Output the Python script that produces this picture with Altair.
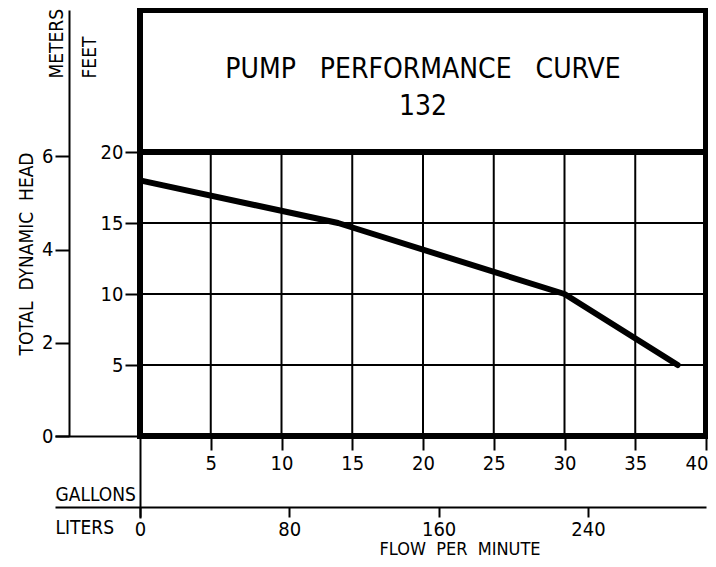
import altair as alt
import pandas as pd

FONT = "DejaVu Sans Condensed, Liberation Sans Narrow, sans-serif"
NB = "\u00a0"

# ---- data ----
flow_gpm = [0, 14, 30, 38]          # gallons per minute
head_ft = [18, 15, 10, 5]           # total dynamic head, feet

gallon_ticks = [0, 5, 10, 15, 20, 25, 30, 35, 40]
feet_ticks = [0, 5, 10, 15, 20]
meter_ticks = [0, 2, 4, 6]
liter_ticks = [0, 80, 160, 240]
grid_gallons = [5, 10, 15, 20, 25, 30, 35]
grid_feet = [5, 10, 15]
header_floor_ft = [20]

gallon_domain = [0, 40]
feet_domain = [0, 30]
meter_domain = [0, 30 * 0.3048]
liter_domain = [-45.5, 303.2]

title_line1 = ["PUMP" + NB * 3 + "PERFORMANCE" + NB * 3 + "CURVE"]
title_line2 = ["132"]

W, H = 566, 426

xg = alt.Scale(domain=gallon_domain, nice=False, zero=False)
yf = alt.Scale(domain=feet_domain, nice=False, zero=False)

gal_axis = alt.Axis(
    orient="bottom", values=gallon_ticks, domain=False, grid=False,
    tickSize={"condition": {"test": "datum.value === 0", "value": 82}, "value": 14},
    tickWidth=2, labelPadding=3, labelFlush=True, labelFlushOffset=2,
    labelExpr="datum.value === 0 ? '' : datum.label",
    title="GALLONS", titleX=-85, titleY=64, titleAlign="left",
    titleBaseline="alphabetic", titleAngle=0,
)
feet_axis = alt.Axis(
    orient="left", values=feet_ticks, domain=False, grid=False,
    tickSize={"condition": {"test": "datum.value === 0", "value": 85}, "value": 15},
    tickWidth=2, labelPadding=2,
    labelExpr="datum.value === 0 ? '' : datum.label",
    title="FEET", titleX=-45, titleY=68, titleAngle=270, titleAlign="left",
    titleBaseline="alphabetic",
)

one = pd.DataFrame({"k": [0]})

vgrid = alt.Chart(pd.DataFrame({"g": grid_gallons})).mark_rule(
    color="black", strokeWidth=2
).encode(
    x=alt.X("g:Q", scale=xg, axis=gal_axis),
    y=alt.YDatum(0, scale=yf, axis=feet_axis),
    y2=alt.Y2Datum(header_floor_ft[0]),
)
hgrid = alt.Chart(pd.DataFrame({"f": grid_feet})).mark_rule(
    color="black", strokeWidth=2
).encode(
    y=alt.Y("f:Q", scale=yf, axis=feet_axis),
    x=alt.XDatum(gallon_domain[0], scale=xg, axis=gal_axis),
    x2=alt.X2Datum(gallon_domain[1]),
)
divider = alt.Chart(pd.DataFrame({"f": header_floor_ft})).mark_rule(
    color="black", strokeWidth=6
).encode(
    y=alt.Y("f:Q", scale=yf, axis=feet_axis),
    x=alt.XDatum(gallon_domain[0], scale=xg, axis=gal_axis),
    x2=alt.X2Datum(gallon_domain[1]),
)
box = alt.Chart(one).mark_rect(
    fill="transparent", stroke="black", strokeWidth=6
).encode(
    x=alt.XDatum(gallon_domain[0], scale=xg, axis=gal_axis),
    x2=alt.X2Datum(gallon_domain[1]),
    y=alt.YDatum(feet_domain[0], scale=yf, axis=feet_axis),
    y2=alt.Y2Datum(feet_domain[1]),
)
curve = alt.Chart(pd.DataFrame({"gpm": flow_gpm, "ft": head_ft})).mark_line(
    color="black", strokeWidth=6, strokeCap="round", strokeJoin="round"
).encode(
    x=alt.X("gpm:Q", scale=xg, axis=gal_axis),
    y=alt.Y("ft:Q", scale=yf, axis=feet_axis),
)
t1 = alt.Chart(pd.DataFrame({"t": title_line1})).mark_text(
    font=FONT, fontSize=28, align="center", baseline="alphabetic", color="black"
).encode(
    text="t:N",
    x=alt.XDatum(20, scale=xg, axis=gal_axis),
    y=alt.YDatum(25.2, scale=yf, axis=feet_axis),
)
t2 = alt.Chart(pd.DataFrame({"t": title_line2})).mark_text(
    font=FONT, fontSize=28, align="center", baseline="alphabetic", color="black"
).encode(
    text="t:N",
    x=alt.XDatum(20, scale=xg, axis=gal_axis),
    y=alt.YDatum(22.6, scale=yf, axis=feet_axis),
)

main = alt.layer(vgrid, hgrid, box, divider, curve, t1, t2)

liters = alt.Chart(pd.DataFrame({"L": liter_ticks})).mark_point(opacity=0).encode(
    x=alt.X(
        "L:Q",
        scale=alt.Scale(domain=liter_domain, range=[-85, W], nice=False, zero=False),
        axis=alt.Axis(
            orient="bottom", offset=71, values=liter_ticks, domainWidth=2,
            tickSize=10, tickWidth=2, labelPadding=2, grid=False,
            title="LITERS", titleX=-85, titleY=26, titleAlign="left",
            titleBaseline="alphabetic", titleAngle=0,
        ),
    )
)

flow = alt.Chart(pd.DataFrame({"g": gallon_domain})).mark_point(opacity=0).encode(
    x=alt.X(
        "g:Q",
        scale=alt.Scale(domain=gallon_domain, nice=False, zero=False),
        axis=alt.Axis(
            orient="bottom", domain=False, ticks=False, labels=False, grid=False,
            title="FLOW" + NB * 2 + "PER" + NB * 2 + "MINUTE",
            titleX=319.5, titleY=118, titleAlign="center",
            titleBaseline="alphabetic", titleAngle=0, titleFontSize=18,
        ),
    )
)

meters = alt.Chart(pd.DataFrame({"m": meter_ticks})).mark_point(opacity=0).encode(
    y=alt.Y(
        "m:Q",
        scale=alt.Scale(domain=meter_domain, nice=False, zero=False),
        axis=alt.Axis(
            orient="left", offset=71, values=meter_ticks, domainWidth=2,
            tickSize=14, tickWidth=2, labelPadding=2, grid=False,
            title="METERS", titleX=-7, titleY=68, titleAngle=270,
            titleAlign="left", titleBaseline="alphabetic",
        ),
    )
)

tdh = alt.Chart(pd.DataFrame({"f": feet_domain})).mark_point(opacity=0).encode(
    y=alt.Y(
        "f:Q",
        scale=alt.Scale(domain=feet_domain, nice=False, zero=False),
        axis=alt.Axis(
            orient="left", domain=False, ticks=False, labels=False, grid=False,
            title="TOTAL" + NB * 2 + "DYNAMIC" + NB * 2 + "HEAD",
            titleX=-108, titleY=243.5, titleAngle=270,
            titleAlign="center", titleBaseline="alphabetic",
        ),
    )
)

chart = (
    alt.layer(main, liters, flow, meters, tdh)
    .resolve_scale(x="independent", y="independent")
    .properties(
        width=W, height=H,
        padding={"left": 132, "top": 2, "right": 2, "bottom": 123},
        autosize=alt.AutoSizeParams(type="none"),
        background="white",
    )
    .configure_view(strokeWidth=0)
    .configure_axis(
        labelFont=FONT, titleFont=FONT, labelFontSize=20, titleFontSize=19,
        titleFontWeight="normal", labelColor="black", titleColor="black",
        tickColor="black", domainColor="black", labelOverlap=False,
        labelFlush=False, titlePadding=0,
    )
)

chart.save("out.html", embed_options={"renderer": "svg", "actions": False})
